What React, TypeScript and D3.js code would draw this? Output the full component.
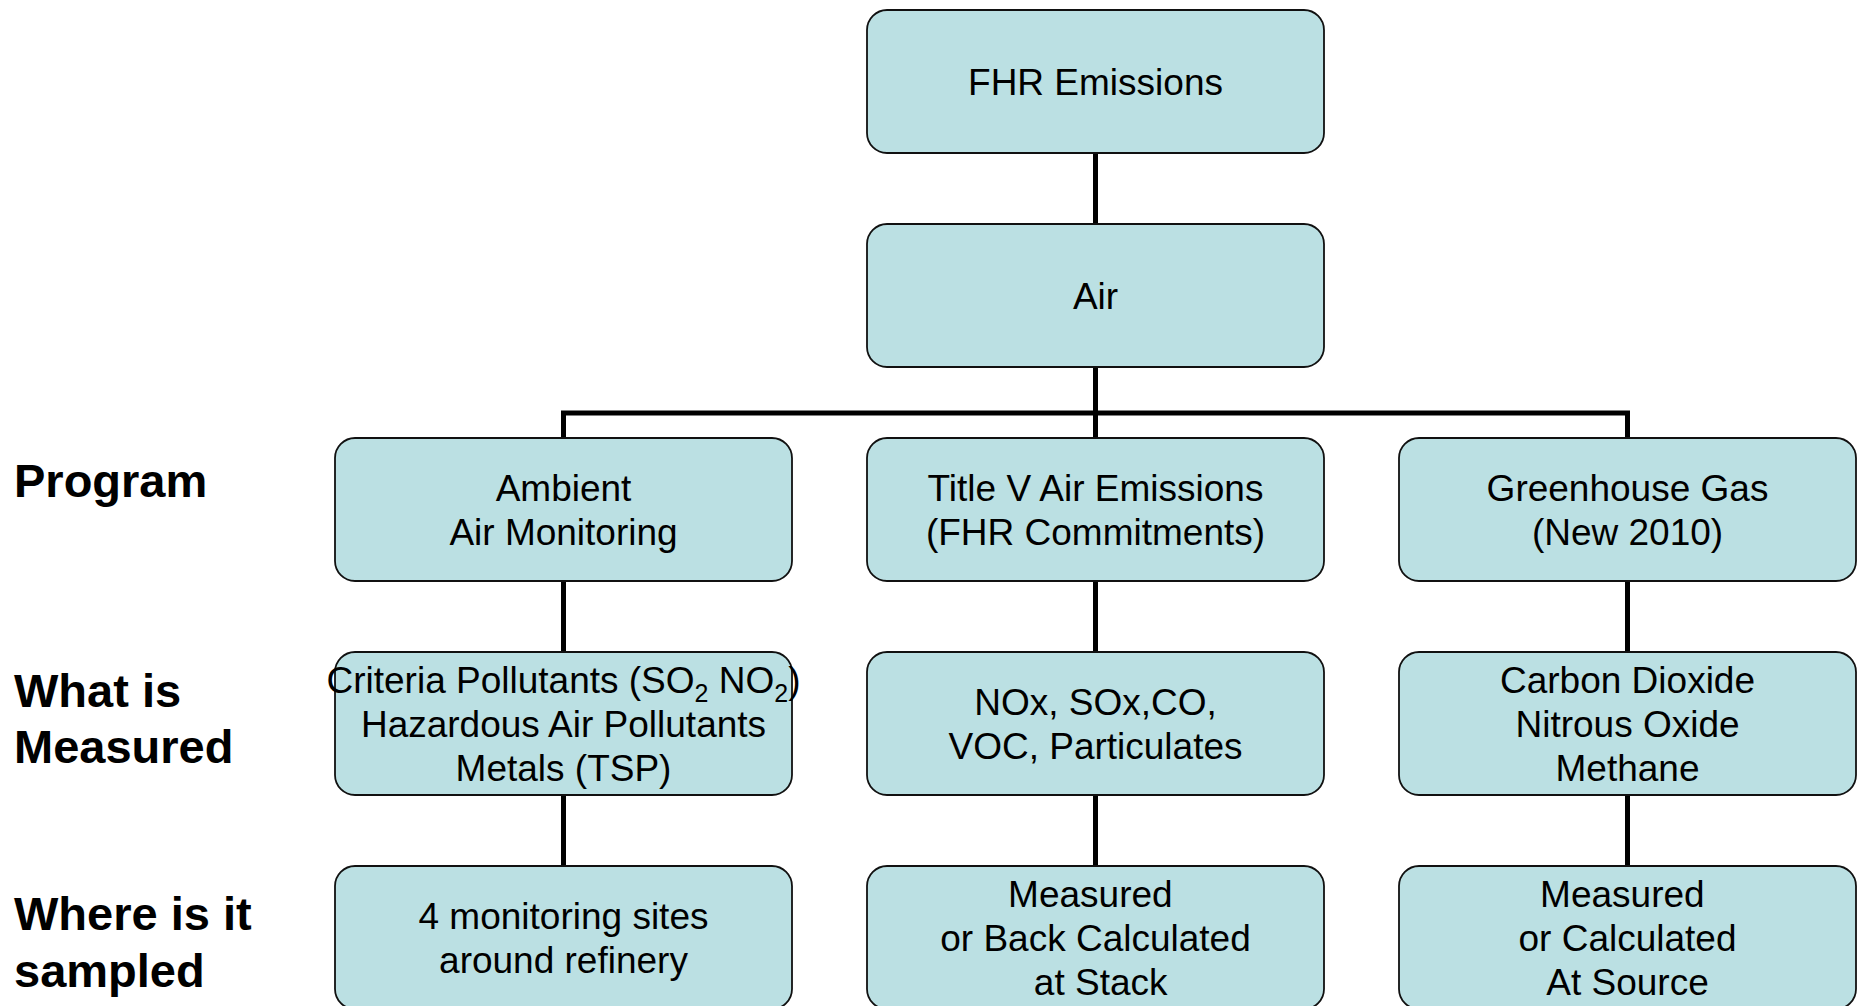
import React, { useRef, useEffect } from 'react';
import * as d3 from 'd3';

// tree nodes: id, parent, text lines ("_2" marks a subscript 2)
const nodeIds = [
  'fhr', 'air',
  'ambient', 'titleV', 'ghg',
  'ambientWhat', 'titleVWhat', 'ghgWhat',
  'ambientWhere', 'titleVWhere', 'ghgWhere',
];
const parentIds = [
  '', 'fhr',
  'air', 'air', 'air',
  'ambient', 'titleV', 'ghg',
  'ambientWhat', 'titleVWhat', 'ghgWhat',
];
const nodeLines = [
  ['FHR Emissions'],
  ['Air'],
  ['Ambient', 'Air Monitoring'],
  ['Title V Air Emissions', '(FHR Commitments)'],
  ['Greenhouse Gas', '(New 2010)'],
  ['Criteria Pollutants (SO_2 NO_2)', 'Hazardous Air Pollutants', 'Metals (TSP)'],
  ['NOx, SOx,CO,', 'VOC, Particulates'],
  ['Carbon Dioxide', 'Nitrous Oxide', 'Methane'],
  ['4 monitoring sites', 'around refinery'],
  ['Measured ', 'or Back Calculated', ' at Stack'],
  ['Measured ', 'or Calculated', 'At Source'],
];

// row headings on the left, by tree depth
const rowDepths = [2, 3, 4];
const rowLabels = [['Program'], ['What is', 'Measured'], ['Where is it', 'sampled']];

const W = 1864;
const H = 1006;
const BOX_W = 457;
const BOX_H = 143;
const COL_STEP = 532;
const ROW_STEP = 214;
const TOP = 10;
const CENTER_X = 1095.5;
const FILL = '#bbe0e3';
const FONT = '"Liberation Sans", Arial, Helvetica, sans-serif';

const App = () => {
  const svgRef = useRef(null);

  useEffect(() => {
    const svg = d3.select(svgRef.current);
    svg.selectAll('*').remove();

    const table = nodeIds.map((id, i) => ({ id, parent: parentIds[i] || null, lines: nodeLines[i] }));
    const root = d3.stratify().id(d => d.id).parentId(d => d.parent)(table);
    d3.tree().nodeSize([COL_STEP, ROW_STEP]).separation(() => 1)(root);

    const x = d => CENTER_X + d.x;
    const y = d => TOP + d.y;

    // connectors (elbows)
    svg.append('g')
      .selectAll('path')
      .data(root.links())
      .join('path')
      .attr('fill', 'none')
      .attr('stroke', '#000')
      .attr('stroke-width', 5)
      .attr('d', l => {
        const midY = y(l.target) - 25;
        return `M${x(l.source)},${y(l.source) + BOX_H}V${midY}H${x(l.target)}V${y(l.target)}`;
      });

    const nodes = svg.append('g')
      .selectAll('g')
      .data(root.descendants())
      .join('g')
      .attr('transform', d => `translate(${x(d)},${y(d)})`);

    nodes.append('rect')
      .attr('x', -BOX_W / 2)
      .attr('y', 0)
      .attr('width', BOX_W)
      .attr('height', BOX_H)
      .attr('rx', 20)
      .attr('fill', FILL)
      .attr('stroke', '#111')
      .attr('stroke-width', 1.8);

    const lineH = 44;
    nodes.each(function (d) {
      const g = d3.select(this);
      const lines = d.data.lines;
      lines.forEach((line, i) => {
        const base = BOX_H / 2 + (i - (lines.length - 1) / 2) * lineH + 13;
        const t = g.append('text')
          .attr('x', 0)
          .attr('y', base)
          .attr('text-anchor', 'middle')
          .attr('font-family', FONT)
          .attr('font-size', 37)
          .attr('fill', '#000')
          .style('white-space', 'pre');
        const parts = line.split(/(_2)/);
        let sub = false;
        parts.forEach(p => {
          if (p === '_2') {
            t.append('tspan').attr('dy', 9).attr('font-size', 25).text('2');
            sub = true;
          } else if (p.length) {
            t.append('tspan').attr('dy', sub ? -9 : 0).text(p);
            sub = false;
          }
        });
      });
    });

    // row headings
    const labelOffsets = [59, 55, 64];
    const labelLineH = [0, 56, 57];
    const labels = svg.append('g')
      .selectAll('text')
      .data(rowLabels)
      .join('text')
      .attr('font-family', FONT)
      .attr('font-weight', 'bold')
      .attr('font-size', 47)
      .attr('fill', '#000');
    labels.each(function (lines, i) {
      const top = TOP + rowDepths[i] * ROW_STEP;
      d3.select(this)
        .selectAll('tspan')
        .data(lines)
        .join('tspan')
        .attr('x', 14)
        .attr('y', (_, j) => top + labelOffsets[i] + j * labelLineH[i])
        .text(s => s);
    });
  }, []);

  return (
    <svg
      ref={svgRef}
      width={W}
      height={H}
      style={{ position: 'fixed', left: 0, top: 0, display: 'block', background: '#fff' }}
    />
  );
};

export default App;
